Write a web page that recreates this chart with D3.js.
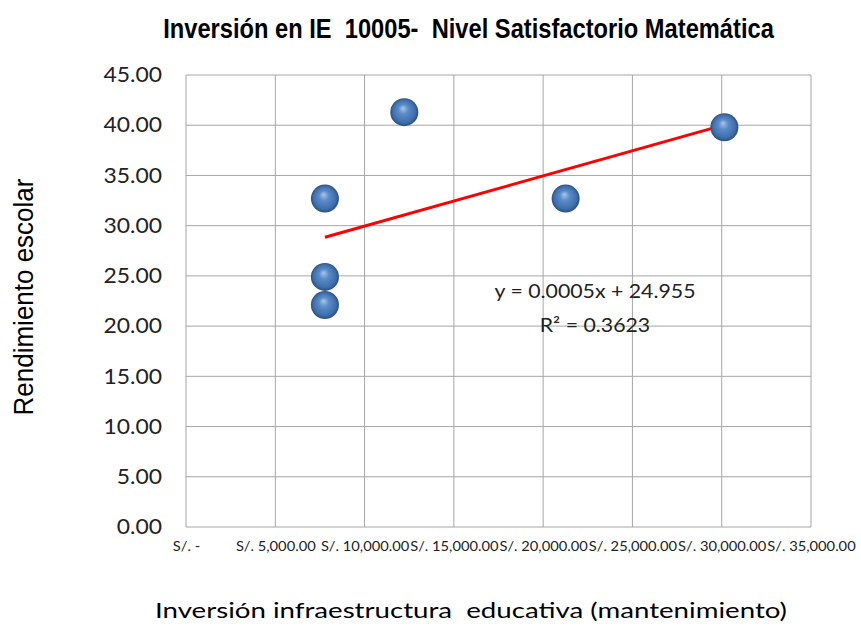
<!DOCTYPE html>
<html>
<head>
<meta charset="utf-8">
<script src="https://cdn.jsdelivr.net/npm/d3@7"></script>
<style>
  body { margin: 0; background: #fff; }
  svg { display: block; }
</style>
</head>
<body>
<svg id="chart" width="861" height="626"></svg>
<script>
// data
const inversion = [12225, 7780, 7780, 7780, 21260, 30150];
const rendimiento = [41.3, 32.7, 24.9, 22.1, 32.7, 39.8];
const xTicks = [0, 5000, 10000, 15000, 20000, 25000, 30000, 35000];
const yTicks = [0, 5, 10, 15, 20, 25, 30, 35, 40, 45];
const trendSlope = 0.0005;
const trendIntercept = 24.955;
const trendLabels = ["y = 0.0005x + 24.955", "R² = 0.3623"];

const svg = d3.select("#chart");
const margin = { top: 75, left: 186, right: 50, bottom: 99 };
const width = 861, height = 626;
const innerW = width - margin.left - margin.right;
const innerH = height - margin.top - margin.bottom;

const x = d3.scaleLinear().domain([0, 35000]).range([0, innerW]);
const y = d3.scaleLinear().domain([0, 45]).range([innerH, 0]);

// the reference text is a bit wider than the fonts we have, stretch it
function stretch(sel, sx) {
    sel.each(function () {
        const len = this.getComputedTextLength();
        this.setAttribute("textLength", len * sx);
        this.setAttribute("lengthAdjust", "spacingAndGlyphs");
    });
}

// place a text at (tx, ty) and scale it horizontally to a target length
function fitText(text, tx, ty, target, rotate) {
    const len = text.node().getComputedTextLength();
    const s = target / len;
    text.attr("transform", "translate(" + tx + "," + ty + ")" +
        (rotate ? " rotate(" + rotate + ")" : "") + " scale(" + s + ",1)");
}

const defs = svg.append("defs");
const grad = defs.append("radialGradient")
    .attr("id", "ball")
    .attr("cx", "50%").attr("cy", "50%").attr("r", "50%")
    .attr("fx", "45%").attr("fy", "35%");
grad.append("stop").attr("offset", "0%").attr("stop-color", "#a9c6ea");
grad.append("stop").attr("offset", "35%").attr("stop-color", "#5b8cc9");
grad.append("stop").attr("offset", "80%").attr("stop-color", "#3f6fab");
grad.append("stop").attr("offset", "100%").attr("stop-color", "#2a4f80");

// title
const title = svg.append("text")
    .attr("text-anchor", "middle")
    .attr("xml:space", "preserve")
    .style("font-family", "'Liberation Sans', Arial, sans-serif")
    .style("font-weight", "bold")
    .style("font-size", "28px")
    .text("Inversión en IE  10005-  Nivel Satisfactorio Matemática");
fitText(title, 468.5, 37.5, 611);

const g = svg.append("g")
    .attr("transform", "translate(" + margin.left + "," + margin.top + ")");

// gridlines
g.append("g")
    .selectAll("line")
    .data(yTicks)
    .enter()
    .append("line")
    .attr("x1", 0).attr("x2", innerW)
    .attr("y1", d => y(d)).attr("y2", d => y(d))
    .attr("stroke", "#a6a6a6").attr("stroke-width", 1);

g.append("g")
    .selectAll("line")
    .data(xTicks)
    .enter()
    .append("line")
    .attr("y1", 0).attr("y2", innerH)
    .attr("x1", d => x(d)).attr("x2", d => x(d))
    .attr("stroke", "#a6a6a6").attr("stroke-width", 1);

// y axis
const yAxis = g.append("g")
    .call(d3.axisLeft(y).tickValues(yTicks).tickSize(0).tickPadding(24).tickFormat(d3.format(".2f")));
yAxis.select(".domain").remove();
yAxis.selectAll("text")
    .style("font-family", "Lato, 'Open Sans', sans-serif")
    .style("font-size", "21px")
    .attr("fill", "#222")
    .call(stretch, 1.09);

// x axis
const fmtX = d => d === 0 ? "S/. -" : "S/. " + d3.format(",.2f")(d);
const xAxis = g.append("g")
    .attr("transform", "translate(0," + innerH + ")")
    .call(d3.axisBottom(x).tickValues(xTicks).tickSize(0).tickPadding(14).tickFormat(fmtX));
xAxis.select(".domain").remove();
xAxis.selectAll("text")
    .style("font-family", "Lato, 'Open Sans', sans-serif")
    .style("font-size", "14px")
    .attr("fill", "#222")
    .call(stretch, 1.05);

// trendline
const xMin = d3.min(inversion), xMax = d3.max(inversion);
g.append("line")
    .attr("x1", x(xMin)).attr("y1", y(trendSlope * xMin + trendIntercept))
    .attr("x2", x(xMax)).attr("y2", y(trendSlope * xMax + trendIntercept))
    .attr("stroke", "#ff0000")
    .attr("stroke-width", 3);

// points
g.append("g")
    .selectAll("circle")
    .data(inversion.map((v, i) => ({ x: v, y: rendimiento[i] })))
    .enter()
    .append("circle")
    .attr("cx", d => x(d.x))
    .attr("cy", d => y(d.y))
    .attr("r", 14)
    .attr("fill", "url(#ball)");

// trend equation
g.append("g")
    .selectAll("text")
    .data(trendLabels)
    .enter()
    .append("text")
    .attr("x", 409)
    .attr("y", (d, i) => 223 + i * 34)
    .attr("text-anchor", "middle")
    .style("font-family", "Lato, 'Open Sans', sans-serif")
    .style("font-size", "19px")
    .attr("fill", "#222")
    .text(d => d)
    .call(stretch, 1.12);

// axis titles
const yTitle = svg.append("text")
    .attr("text-anchor", "middle")
    .style("font-family", "'Liberation Sans', Arial, sans-serif")
    .style("font-size", "28px")
    .text("Rendimiento escolar");
fitText(yTitle, 33, 297, 237, -90);

const xTitle = svg.append("text")
    .attr("text-anchor", "middle")
    .attr("xml:space", "preserve")
    .style("font-family", "Lato, 'Open Sans', sans-serif")
    .style("font-size", "21px")
    .text("Inversión infraestructura  educativa (mantenimiento)");
fitText(xTitle, 471, 618, 632);
</script>
</body>
</html>
